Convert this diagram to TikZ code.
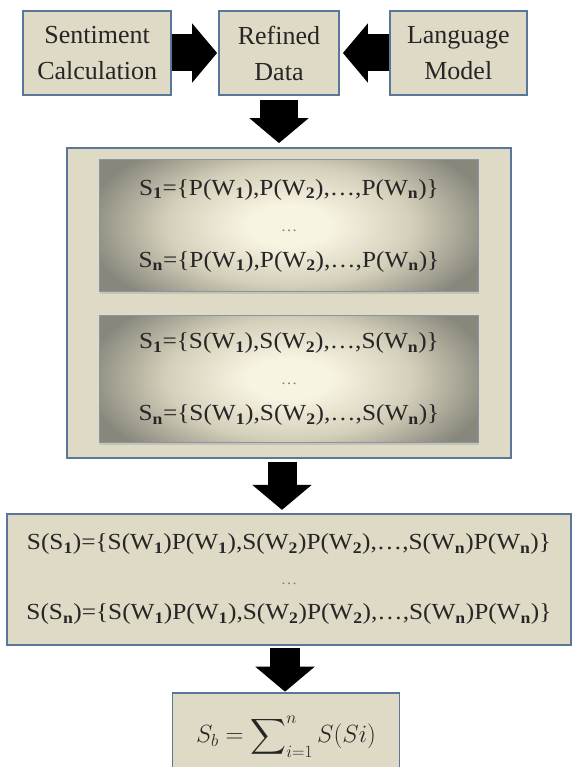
\documentclass[tikz,border=0pt]{standalone}
\usepackage{amsmath}
\usepackage{fontspec}
\setmainfont{Liberation Serif}
\newfontfamily\formulafont[FakeStretch=1.1]{Liberation Serif}
\usepackage{tikz}
\usetikzlibrary{positioning,arrows.meta,shadows}

\definecolor{boxfill}{HTML}{DFDAC5}
\definecolor{boxline}{HTML}{5A7699}
\definecolor{edgegray}{HTML}{8A95A6}
\definecolor{glowin}{HTML}{F8F4E2}
\definecolor{glowmid}{HTML}{D4CFBA}
\definecolor{glowout}{HTML}{88877C}
\definecolor{ink}{HTML}{262626}

% radial glow, outer edge of the shaded path at 25bp
\pgfdeclareradialshading{glow}{\pgfpointorigin}{%
  color(0bp)=(glowin); color(5bp)=(glowin);
  color(15bp)=(glowmid); color(25bp)=(glowout); color(50bp)=(glowout)}

\newcommand{\wsub}[1]{\textsubscript{\textbf{#1}}}
\newcommand{\gap}{{\color{gray}\fontsize{15}{15}\selectfont\dots}}

\begin{document}
\begin{tikzpicture}[
  x = 1pt, y = -1pt,
  box/.style = {
    draw = boxline,
    fill = boxfill,
    line width = 1.8pt,
    inner sep = 0pt,
    text = ink,
    align = center,
  },
  title/.style = {
    box,
    minimum height = 84pt,
    font = \fontsize{26}{36}\selectfont,
  },
  glowbox/.style = {
    draw = edgegray,
    line width = 0.8pt,
    inner sep = 0pt,
    text = ink,
    align = center,
    minimum width = 379pt,
    font = \formulafont\fontsize{23}{36}\selectfont,
    drop shadow = {shadow xshift=0pt, shadow yshift=-2.5pt, opacity=0.25},
    path picture = {
      \fill[glowout] (path picture bounding box.south west)
        rectangle (path picture bounding box.north east);
      \shade[shading=glow] (path picture bounding box.center)
        ellipse [x radius=205pt, y radius=100pt];
    },
  },
  bigarrow/.style = {
    draw = black,
    line width = #1,
    -{Triangle[length=25pt, width=58pt]},
  },
]

  \clip[use as bounding box] (0,0) rectangle (574,767);

  % input stage
  \node[title, minimum width = 120pt] (refined) at (279,53) {Refined\\Data};
  \node[title, minimum width = 148pt] (sent) [left=46pt of refined] {Sentiment\\Calculation};
  \node[title, minimum width = 137pt] (lang) [right=49pt of refined] {Language\\Model};
  \draw[bigarrow=37pt, shorten >=1pt] (sent) -- (refined);
  \draw[bigarrow=37pt, shorten >=3pt] (lang) -- (refined);

  % per sentence word vectors
  \node[box, minimum width = 444pt, minimum height = 310pt] (model) at (289,303) {};
  \node[glowbox, minimum height = 132pt] (probs) [below=12pt of model.north] {%
    S\wsub{1}=\{P(W\wsub{1}),P(W\wsub{2}),\dots,P(W\wsub{n})\}\\
    \gap\\
    S\wsub{n}=\{P(W\wsub{1}),P(W\wsub{2}),\dots,P(W\wsub{n})\}};
  \node[glowbox, minimum height = 127pt] (scores) [below=23pt of probs] {%
    S\wsub{1}=\{S(W\wsub{1}),S(W\wsub{2}),\dots,S(W\wsub{n})\}\\
    \gap\\
    S\wsub{n}=\{S(W\wsub{1}),S(W\wsub{2}),\dots,S(W\wsub{n})\}};
  \draw[bigarrow=38pt, shorten <=4pt, shorten >=4pt]
    (refined.south) -- (refined.south |- model.north);

  % weighted sentence scores
  \node[box, minimum width = 564pt, minimum height = 131pt,
    font = \formulafont\fontsize{23}{35}\selectfont] (product) [below=54pt of model] {%
    S(S\wsub{1})=\{S(W\wsub{1})P(W\wsub{1}),S(W\wsub{2})P(W\wsub{2}),\dots,S(W\wsub{n})P(W\wsub{n})\}\\
    \gap\\
    S(S\wsub{n})=\{S(W\wsub{1})P(W\wsub{1}),S(W\wsub{2})P(W\wsub{2}),\dots,S(W\wsub{n})P(W\wsub{n})\}};
  \draw[bigarrow=29pt, shorten <=3pt, shorten >=3pt]
    ([xshift=-7pt]model.south) -- ([xshift=-7pt]model.south |- product.north);

  % total
  \node[box, minimum width = 227pt, minimum height = 88pt,
    font = \fontsize{26}{30}\selectfont] (total) [below=46pt of product, xshift=-3pt]
    {$\displaystyle S_b = \sum\nolimits_{i=1}^{n} S(Si)$};
  \draw[bigarrow=30pt, shorten <=2pt]
    ([xshift=-1pt]total.north |- product.south) -- ([xshift=-1pt]total.north);
\end{tikzpicture}
\end{document}
